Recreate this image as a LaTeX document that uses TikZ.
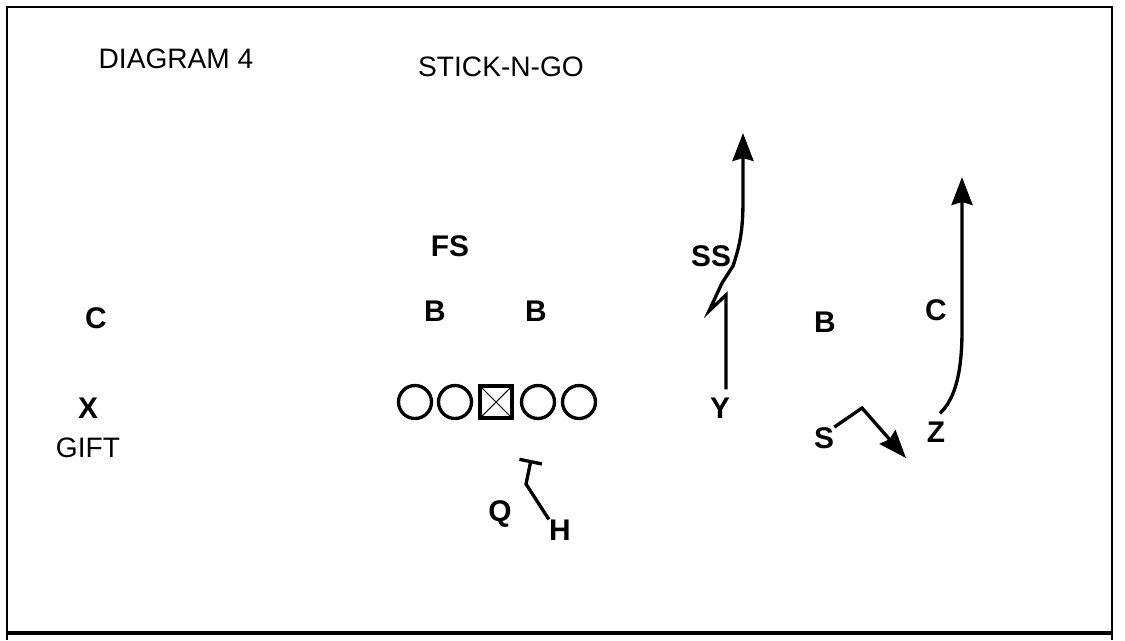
\documentclass[tikz,border=0pt]{standalone}
\usepackage{fontspec}
\setmainfont{Liberation Sans}
\usetikzlibrary{arrows.meta, positioning}

\begin{document}
\begin{tikzpicture}[
      x=0.02cm, y=-0.02cm,
      player/.style={font=\fontsize{17}{19}\selectfont\bfseries, inner sep=0pt},
      caption/.style={font=\fontsize{16}{18}\selectfont, inner sep=0pt},
      lineman/.style={draw, circle, line width=1.9pt, minimum size=0.66cm, inner sep=0pt},
      center_box/.style={draw, line width=2.2pt, minimum size=0.63cm, inner sep=0pt},
      route/.style={line width=1.9pt, -{Stealth[length=0.56cm, width=0.42cm, inset=0.06cm]}},
      block/.style={line width=1.9pt, -{Bar[width=0.46cm]}}
    ]
      \useasboundingbox (0,0) rectangle (1125,640);

      % Frame of the diagram cell
      \draw[line width=1.5pt] (7,640) -- (7,7) -- (1112,7) -- (1112,640);
      \draw[line width=2.2pt] (7,633) -- (1112,633);

      % Titles
      \node[caption] (title) at (176,59) {DIAGRAM 4};
      \node[caption] (play) at (501,67) {STICK-N-GO};

      % Offensive line with the center in the middle
      \foreach \i/\x in {1/415, 2/455, 4/538, 5/579} {
        \node[lineman] (ol\i) at (\x,402) {};
      }
      \node[center_box] (ol3) at (496,402) {};
      \draw[line width=0.6pt] (ol3.north west) -- (ol3.south east);
      \draw[line width=0.6pt] (ol3.north east) -- (ol3.south west);

      % Defense
      \node[player] (fs) at (450,246) {FS};
      \node[player] (lb_left) at (435,311) {B};
      \node[player] (lb_mid) at (536,311) {B};
      \node[player] (ss) at (711,256) {SS};
      \node[player] (lb_right) at (825,322) {B};
      \node[player] (cb_left) at (96,318) {C};
      \node[player] (cb_right) at (936,310) {C};

      % Offense
      \node[player] (x) at (88,408) {X};
      \node[caption, below=0.38cm of x] (gift) {GIFT};
      \node[player] (q) at (500,514) {Q};
      \node[player] (h) at (560,530) {H};
      \node[player] (y) at (720,408) {Y};
      \node[player] (s) at (824,438) {S};
      \node[player] (z) at (936,432) {Z};

      % Route end points
      \coordinate (h_block) at (531,460);
      \coordinate (y_go) at (743,133);
      \coordinate (z_go) at (962,177);
      \coordinate (s_out) at (906,458);

      % Routes
      \draw[block] (h.north west) -- (526,484) -- (h_block);
      \draw[route] ([xshift=0.12cm, yshift=0.16cm]y.north) -- (726,295) -- (709,311) -- (722,283) -- (733,266)
        .. controls (740,245) and (743,230) .. (743,200) -- (y_go);
      \draw[route] ([xshift=0.08cm, yshift=0.16cm]z.north) .. controls (956,398) and (962,370) .. (962,330) -- (z_go);
      \draw[route] (s.north east) -- (862,408) -- (s_out);
    \end{tikzpicture}
\end{document}
